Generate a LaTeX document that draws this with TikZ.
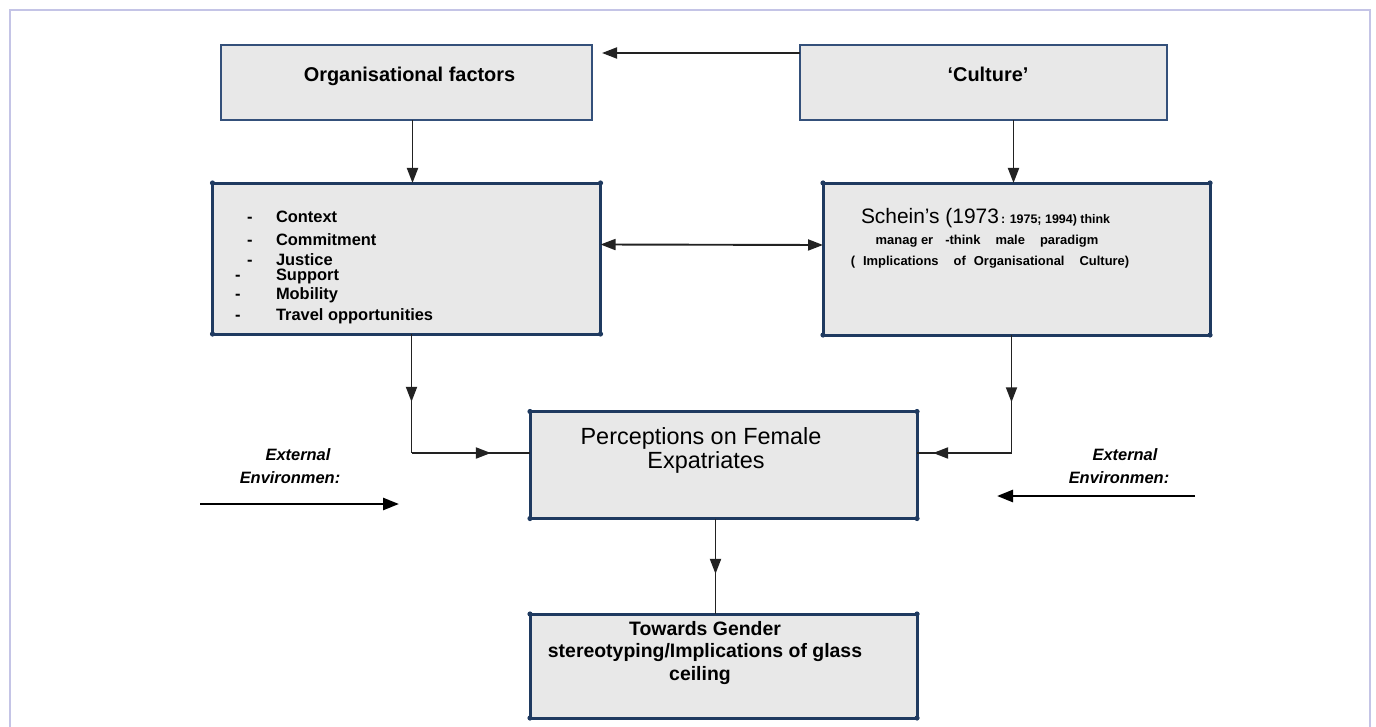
\documentclass[tikz,border=0pt]{standalone}
\usepackage{fontspec}
\setmainfont{Liberation Sans}
\usetikzlibrary{arrows.meta,decorations.markings,calc}
\definecolor{navy}{HTML}{1F3A60}
\definecolor{topnavy}{HTML}{34507A}
\definecolor{boxfill}{HTML}{E8E8E8}
\definecolor{framec}{HTML}{C4C4E6}
\definecolor{linec}{HTML}{222222}
\newcommand{\hgap}[1]{\hspace{#1bp}}
\tikzset{
  topbox/.style={draw=topnavy, line width=2bp, fill=boxfill, inner sep=0pt, outer sep=0pt},
  thickbox/.style={draw=navy, line width=3bp, fill=boxfill, inner sep=0pt, outer sep=0pt},
  conn/.style={draw=linec, line width=1.9bp},
  tipend/.style={-{Triangle[length=15bp,width=11bp]}},
  twotips/.style={{Triangle[length=15bp,width=11bp]}-{Triangle[length=15bp,width=11bp]}},
  midtip/.style={postaction={decorate},decoration={markings,mark=at position #1 with {\arrow{Triangle[length=15bp,width=11bp]}}}},
  extarrow/.style={draw=black, line width=2.6bp, -{Triangle[length=16bp,width=12bp]}},
  txt/.style={inner sep=0pt, outer sep=0pt, text=black},
  headtxt/.style={txt, font=\bfseries\fontsize{20}{20}\selectfont},
  listtxt/.style={txt, anchor=base west, font=\bfseries\fontsize{16.5}{16.5}\selectfont},
  smalltxt/.style={txt, anchor=base, font=\bfseries\fontsize{13}{13}\selectfont},
  exttxt/.style={txt, anchor=base, font=\bfseries\itshape\fontsize{16.5}{16.5}\selectfont},
}
\begin{document}
\begin{tikzpicture}[x=1bp,y=-1bp]
\useasboundingbox (0,0) rectangle (1376,726);
% outer frame
\draw[framec, line width=1.2bp] (10,730) -- (10,10) -- (1370,10) -- (1370,730);

% boxes
\node[topbox, minimum width=371bp, minimum height=75bp] (org) at (406.5,82.5) {};
\node[topbox, minimum width=367bp, minimum height=75bp] (cult) at (983.5,82.5) {};
\node[thickbox, minimum width=388bp, minimum height=151bp] (lm) at (406.5,258.5) {};
\node[thickbox, minimum width=387bp, minimum height=152bp] (rm) at (1016.5,259) {};
\node[thickbox, minimum width=387bp, minimum height=107bp] (perc) at (723.5,465) {};
\node[thickbox, minimum width=387bp, minimum height=104bp] (tow) at (723.5,666) {};
\foreach \n in {lm,rm,perc,tow}
  \foreach \a in {north west,north east,south west,south east}
    \fill[navy] (\n.\a) circle (2.6bp);

% texts
\node[headtxt, anchor=base] (orgt) at (409.5,82) {Organisational factors};
\node[headtxt, anchor=base] (cultt) at (988,82) {‘Culture’};

\node[listtxt] (d1) at (247,222) {-};
\node[listtxt] (d2) at (247,245) {-};
\node[listtxt] (d3) at (247,265) {-};
\node[listtxt] (d4) at (235,280) {-};
\node[listtxt] (d5) at (235,299) {-};
\node[listtxt] (d6) at (235,320) {-};
\node[listtxt] (l1) at (276,222) {Context};
\node[listtxt] (l2) at (276,245) {Commitment};
\node[listtxt] (l3) at (276,265) {Justice};
\node[listtxt] (l4) at (276,280) {Support};
\node[listtxt] (l5) at (276,299) {Mobility};
\node[listtxt] (l6) at (276,320) {Travel opportunities};

\node[txt, anchor=base west, font=\fontsize{21}{21}\selectfont] (s1) at (861,223) {Schein’s (1973};
\node[txt, anchor=base west, font=\bfseries\fontsize{12.5}{12.5}\selectfont] (s1b) at ([xshift=2bp]s1.base east) {: 1975; 1994) think};
\node[smalltxt] (s2) at (987,244) {manag er\hgap{12}-think\hgap{15}male\hgap{15}paradigm};
\node[smalltxt] (s3) at (990,265) {(\hgap{8}Implications\hgap{15}of\hgap{8}Organisational\hgap{15}Culture)};

\node[txt, anchor=base, font=\fontsize{23.5}{23.5}\selectfont] (p1) at (701,444) {Perceptions on Female};
\node[txt, anchor=base, font=\fontsize{23.5}{23.5}\selectfont] (p2) at (706,468) {Expatriates};

\node[txt, anchor=base, font=\bfseries\fontsize{19.5}{19.5}\selectfont] (t1) at (705,635) {Towards Gender};
\node[txt, anchor=base, font=\bfseries\fontsize{19.5}{19.5}\selectfont] (t2) at (705,657) {stereotyping/Implications of glass};
\node[txt, anchor=base, font=\bfseries\fontsize{19.5}{19.5}\selectfont] (t3) at (700,680) {ceiling};

\node[exttxt] (e1) at (298,460) {External};
\node[exttxt] (e2) at (290,483) {Environmen:};
\node[exttxt] (e3) at (1125,460) {External};
\node[exttxt] (e4) at (1119,483) {Environmen:};

% connectors
\draw[conn, tipend] ([yshift=-8bp]cult.north west) -- ([xshift=10bp,yshift=-8bp]org.north east);
\coordinate (os) at ([xshift=6bp]org.south);
\draw[conn, tipend] (os) -- (os |- lm.north);
\coordinate (cs) at ([xshift=30bp]cult.south);
\draw[conn, tipend] (cs) -- (cs |- rm.north);
\draw[conn, twotips] ([yshift=14bp]lm.east) -- ([yshift=14bp]rm.west);

\coordinate (lt) at ([xshift=5bp]lm.south);
\coordinate (lh) at ($(perc.west)+(0,-12)$);
\coordinate (lk) at (lt |- lh);
\draw[conn, midtip=0.57] (lt) -- (lk);
\draw[conn, midtip=0.67] (lk) -- (lh);

\coordinate (rt) at ([xshift=-5bp]rm.south);
\coordinate (rh) at ($(perc.east)+(0,-12)$);
\coordinate (rk) at (rt |- rh);
\draw[conn, midtip=0.57] (rt) -- (rk);
\draw[conn, midtip=0.83] (rk) -- (rh);

\coordinate (pt) at ([xshift=-8bp]perc.south);
\draw[conn, midtip=0.58] (pt) -- (pt |- tow.north);

\coordinate (x1s) at (200,504);
\coordinate (x1e) at (399,504);
\coordinate (x2s) at (1195,496);
\coordinate (x2e) at (997,496);
\draw[extarrow] (x1s) -- (x1e);
\draw[extarrow] (x2s) -- (x2e);
\end{tikzpicture}
\end{document}
